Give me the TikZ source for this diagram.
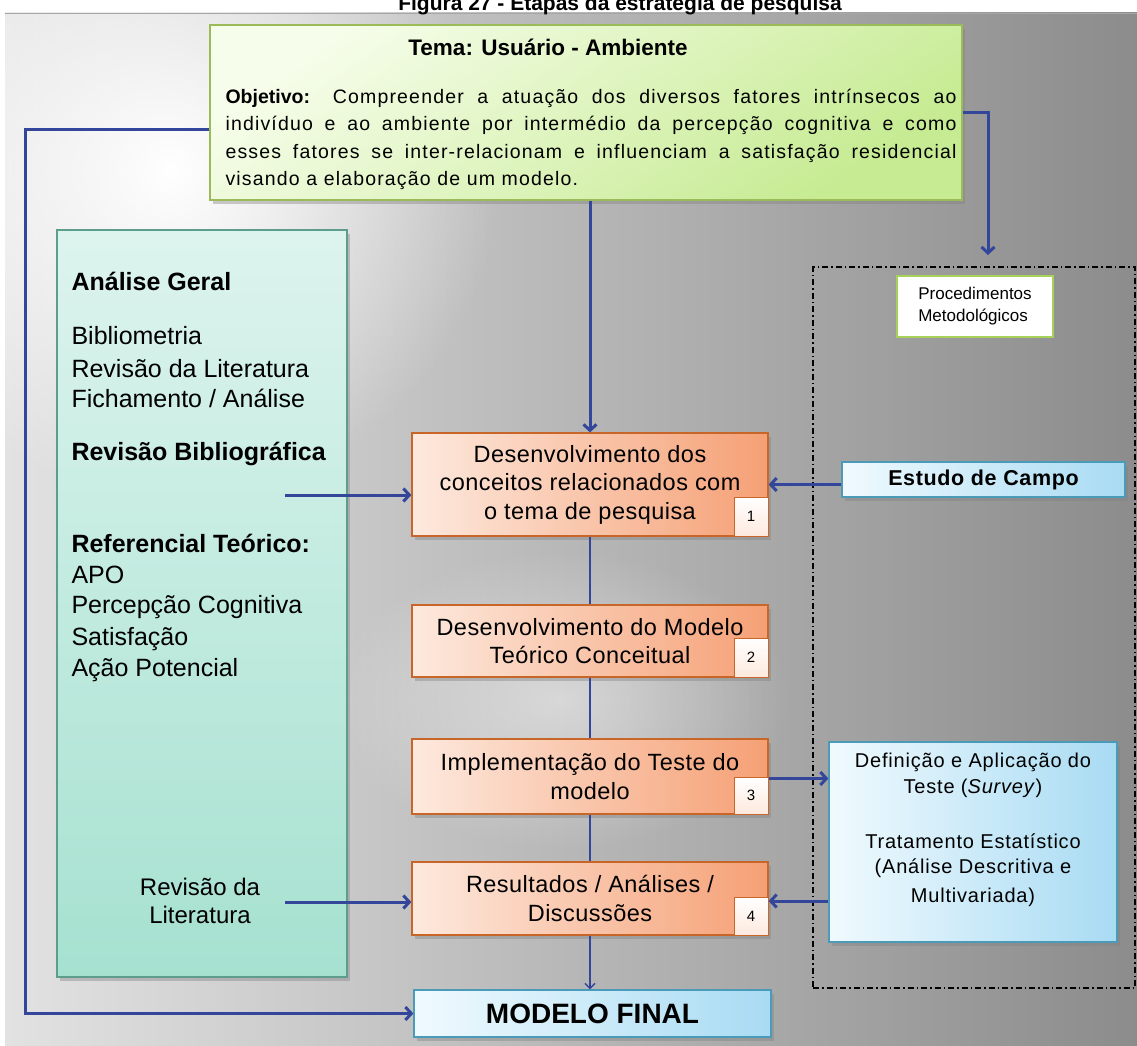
\documentclass[tikz,border=0pt]{standalone}
\usepackage{fontspec}
\setmainfont{Liberation Sans}
\newfontfamily\spacedA{Liberation Sans}[LetterSpace=6]
\newfontfamily\spacedB{Liberation Sans}[LetterSpace=4]
\newfontfamily\spacedC{Liberation Sans}[LetterSpace=3]
\newfontfamily\spacedD{Liberation Sans}[LetterSpace=2]
\usetikzlibrary{arrows.meta,shadows,fadings,calc}

\definecolor{connC}{HTML}{34469A}
\definecolor{panelL}{HTML}{E2E2E2}
\definecolor{panelR}{HTML}{8C8C8C}
\definecolor{grBorder}{HTML}{9BBB59}
\definecolor{grLight}{HTML}{F6FDEA}
\definecolor{grDark}{HTML}{C6EB92}
\definecolor{tealBorder}{HTML}{5E9C8C}
\definecolor{tealLight}{HTML}{DDF4EE}
\definecolor{tealDark}{HTML}{A6E1D0}
\definecolor{orBorder}{HTML}{C8662A}
\definecolor{orLight}{HTML}{FDE9DE}
\definecolor{orDark}{HTML}{F5A075}
\definecolor{blBorder}{HTML}{4A9AB8}
\definecolor{blLight}{HTML}{F0FAFE}
\definecolor{blDark}{HTML}{A8DBF3}
\definecolor{procBorder}{HTML}{A6D25A}

\tikzfading[name=softglow,inner color=transparent!0,outer color=transparent!100]

\newcommand\fsz[2]{\fontsize{#1}{#2}\selectfont}

\begin{document}
\begin{tikzpicture}[x=1pt,y={(0pt,-1pt)},
  shadowed/.style={drop shadow={shadow xshift=3pt,shadow yshift=-4pt,opacity=0.4}},
  box/.style={draw,line width=1.2pt,inner sep=0pt,shadowed},
  themebox/.style={box,draw=grBorder,top color=grLight,bottom color=grDark,shading angle=35},
  tealbox/.style={box,draw=tealBorder,top color=tealLight,bottom color=tealDark},
  stagebox/.style={box,draw=orBorder,left color=orLight,right color=orDark,
    minimum width=356pt,align=center,font=\spacedD\fsz{23.5}{28.5}},
  numbox/.style={draw=orBorder,line width=1pt,top color=white,bottom color=orLight,
    minimum width=34pt,minimum height=39pt,inner sep=0pt,font=\fsz{15}{18},anchor=south east},
  bluebox/.style={box,draw=blBorder,left color=blLight,right color=blDark},
  procbox/.style={draw=procBorder,line width=2.5pt,fill=white,inner sep=0pt,
    minimum width=156pt,minimum height=61pt,align=left,font=\fsz{17}{22}},
  region/.style={draw=black,line width=1.2pt,dash pattern=on 6pt off 3pt on 1.5pt off 3pt},
  conn/.style={draw=connC,line width=3pt},
  arr/.style={conn,-{Straight Barb[length=6pt,width=13pt]}},
  thin/.style={draw=connC,line width=1.8pt},
  smallarr/.style={draw=connC,line width=1.5pt,-{Straight Barb[length=5pt,width=10pt]}},
  lefthead/.style={anchor=base west,font=\bfseries\fsz{25}{30}},
  leftitem/.style={anchor=base west,font=\fsz{25}{30}},
  objline/.style={anchor=base west,font=\spacedA\fsz{19.5}{27}},
  defline/.style={anchor=base,font=\spacedB\fsz{20}{26}}]

\useasboundingbox (0,0) rectangle (1137,1046);

% page and shaded panel
\fill[white] (0,0) rectangle (1137,1046);
\shade[left color=panelL,right color=panelR] (5,13) rectangle (1137,1046);
\begin{scope}
  \clip (5,13) rectangle (1137,1046);
  \fill[white,path fading=softglow] (170,170) circle (330pt);
  \fill[white,opacity=0.45,path fading=softglow] (560,700) ellipse (230pt and 150pt);
  \draw[black!35,line width=1.5pt] (5,13.5) -- (1137,13.5);
\end{scope}

% caption, running off the top edge of the page
\node[anchor=base,font=\bfseries\fsz{21}{25}] (caption) at (620,11)
  {Figura 27 - Etapas da estratégia de pesquisa};

% theme box
\node[themebox,minimum width=752pt,minimum height=175pt] (theme) at (586,112.5) {};
\node[anchor=base,font=\bfseries\fsz{22.5}{28}] (themeTitle) at (548,56) {Tema: Usuário - Ambiente};
\foreach \txt/\yy [count=\i] in {
  {\makebox[731pt][s]{{\rmfamily\bfseries Objetivo:} Compreender a atuação dos diversos fatores intrínsecos ao}}/104,
  {\makebox[731pt][s]{indivíduo e ao ambiente por intermédio da percepção cognitiva e como}}/131,
  {\makebox[731pt][s]{esses fatores se inter-relacionam e influenciam a satisfação residencial}}/158,
  {visando a elaboração de um modelo.}/185}
  \node[objline] (obj\i) at (222,\yy) {\txt};

% literature column
\node[tealbox,minimum width=290pt,minimum height=747pt] (lit) at (202,603.5) {};
\foreach \txt/\yy [count=\i] in {{Análise Geral}/290,{Revisão Bibliográfica}/460,{Referencial Teórico:}/552}
  \node[lefthead] (head\i) at (68,\yy) {\txt};
\foreach \txt/\yy [count=\i] in {Bibliometria/344,{Revisão da Literatura}/377,{Fichamento / Análise}/407,
  APO/583,{Percepção Cognitiva}/613,Satisfação/645,{Ação Potencial}/676}
  \node[leftitem] (item\i) at (68,\yy) {\txt};
\node[anchor=base,font=\fsz{24}{28}] (revA) at (200,895) {Revisão da};
\node[anchor=base,font=\fsz{24}{28}] (revB) at (200,923) {Literatura};

% methodological region
\node[region,minimum width=322pt,minimum height=721pt,inner sep=0pt] (method) at (974,627.5) {};
\node[procbox] (proc) at (975,306.5) {Procedimentos\\Metodológicos};
\node[bluebox,minimum width=283pt,minimum height=35pt,font=\spacedC\bfseries\fsz{21.5}{25}] (field) at (983.5,479.5) {Estudo de Campo};
\node[bluebox,minimum width=288pt,minimum height=200pt] (survey) at (973,842) {};
\foreach \txt/\yy [count=\i] in {{Definição e Aplicação do}/767,{Teste (\textit{Survey})}/793,
  {Tratamento Estatístico}/848,{(Análise Descritiva e}/873,{Multivariada)}/902}
  \node[defline] (def\i) at (973,\yy) {\txt};

% stages
\node[stagebox,minimum height=103pt] (s1) at (590,484.5)
  {Desenvolvimento dos\\conceitos relacionados com\\o tema de pesquisa};
\node[stagebox,minimum height=72pt] (s2) at (590,641)
  {Desenvolvimento do Modelo\\Teórico Conceitual};
\node[stagebox,minimum height=75pt] (s3) at (590,776.5)
  {Implementação do Teste do\\modelo};
\node[stagebox,minimum height=73pt] (s4) at (590,898.5)
  {Resultados / Análises /\\Discussões};
\node[numbox] (n1) at (s1.south east) {1};
\node[numbox] (n2) at (s2.south east) {2};
\node[numbox,minimum height=37pt] (n3) at (s3.south east) {3};
\node[numbox,minimum height=38pt] (n4) at (s4.south east) {4};

\node[bluebox,minimum width=357pt,minimum height=47pt,font=\bfseries\fsz{28}{32}] (final) at (592.5,1013.5) {MODELO FINAL};

% connectors
\coordinate (loopCorner) at (25,130);
\coordinate (methIn) at (988,255);
\coordinate (litIn) at (285,495);
\coordinate (revIn) at (285,902);

\draw[arr] (theme.west |- loopCorner) -- (loopCorner) |- (final.west);
\draw[arr] (theme.east) -| (methIn);
\draw[arr] (theme.south -| s1.north) -- (s1.north);
\draw[arr] (litIn) -- (litIn -| s1.west);
\draw[arr] ([yshift=-5pt]field.west) -- ([yshift=-5pt]field.west -| s1.east);
\draw[thin] (s1.south) -- (s2.north);
\draw[thin] (s2.south) -- (s3.north);
\draw[thin] (s3.south) -- (s4.north);
\draw[smallarr] (s4.south) -- (final.north -| s4.south);
\draw[arr] ([yshift=-2pt]s3.east) -- ([yshift=-2pt]s3.east -| survey.west);
\draw[arr] ([yshift=-2.5pt]s4.east -| survey.west) -- ([yshift=-2.5pt]s4.east);
\draw[arr] (revIn) -- (revIn -| s4.west);

\end{tikzpicture}
\end{document}
